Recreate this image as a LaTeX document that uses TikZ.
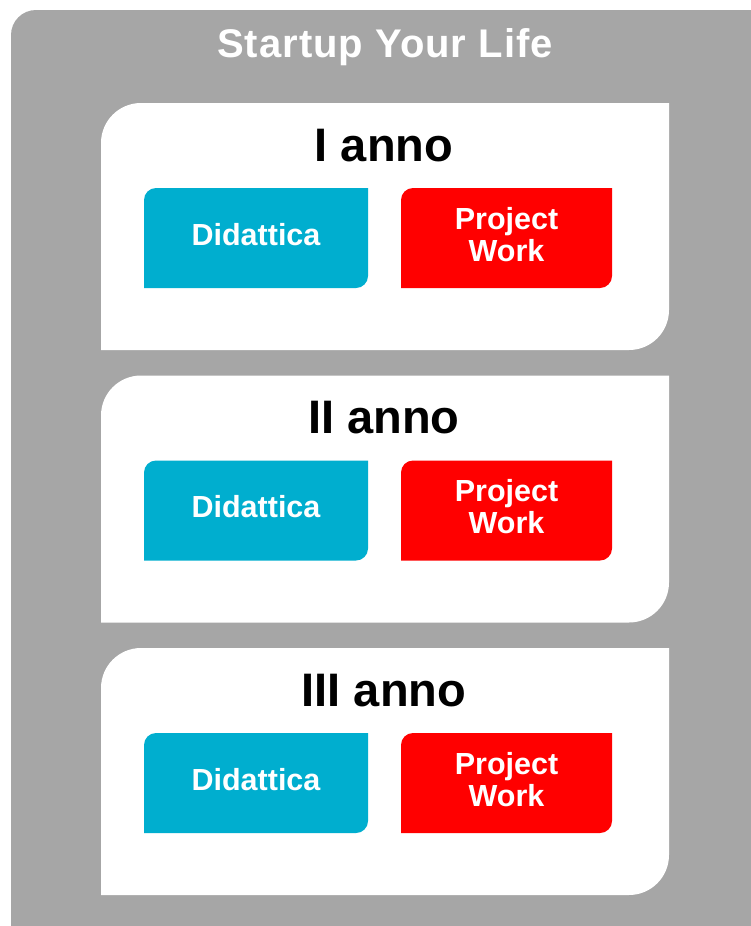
\documentclass[tikz,border=0pt]{standalone}
\usepackage{fontspec}
\setmainfont{Liberation Sans}
\usetikzlibrary{positioning}
\definecolor{framegray}{HTML}{A6A6A6}
\definecolor{didblue}{HTML}{00AECF}
\definecolor{pwred}{HTML}{FF0000}

\tikzset{
  % top-left and bottom-right corners rounded
  leaf/.style 2 args={inner sep=0pt, path picture={
    \fill[#2] ([yshift=-#1]path picture bounding box.north west)
      arc[start angle=180, end angle=90, radius=#1]
      -- (path picture bounding box.north east)
      -- ([yshift=#1]path picture bounding box.south east)
      arc[start angle=0, end angle=-90, radius=#1]
      -- (path picture bounding box.south west) -- cycle;}},
  % only the top-left corner rounded
  tlcorner/.style 2 args={inner sep=0pt, path picture={
    \fill[#2] ([yshift=-#1]path picture bounding box.north west)
      arc[start angle=180, end angle=90, radius=#1]
      -- (path picture bounding box.north east)
      -- (path picture bounding box.south east)
      -- (path picture bounding box.south west) -- cycle;}},
  title/.style={text=white, font=\bfseries\fontsize{40}{42}\selectfont\addfontfeatures{LetterSpace=2.5}},
  yearlabel/.style={text=black, font=\bfseries\fontsize{47}{50}\selectfont},
  subbox/.style={text=white, align=center, minimum height=100pt, text depth=8pt,
    font=\bfseries\fontsize{30.5}{32}\selectfont}
}

\begin{document}
\begin{tikzpicture}[x=1pt, y=1pt]
    \useasboundingbox (0,0) rectangle (751,-926);
    % grey frame
    \node[tlcorner={25pt}{framegray}, minimum width=740pt, minimum height=916pt] (frame) at (381,-468) {};
    \node[title, anchor=base] (title) at (385,-57) {Startup Your Life};

    % one white panel per year
    \foreach \i/\lab in {1/I, 2/II, 3/III} {
        \pgfmathsetmacro\top{-103-(\i-1)*272.5}
        \node[leaf={40pt}{white}, minimum width=568pt, minimum height=247pt] (year\i) at (385,\top-123.5) {};
        \node[yearlabel, anchor=base] (lbl\i) at (384,\top-58) {\lab\ anno};
        \node[subbox, leaf={12pt}{didblue}, minimum width=224pt] (did\i) at (256,\top-135) {Didattica};
        \node[subbox, leaf={12pt}{pwred}, minimum width=211pt] (pw\i) at (506.5,\top-135) {Project\\Work};
    }
\end{tikzpicture}
\end{document}
